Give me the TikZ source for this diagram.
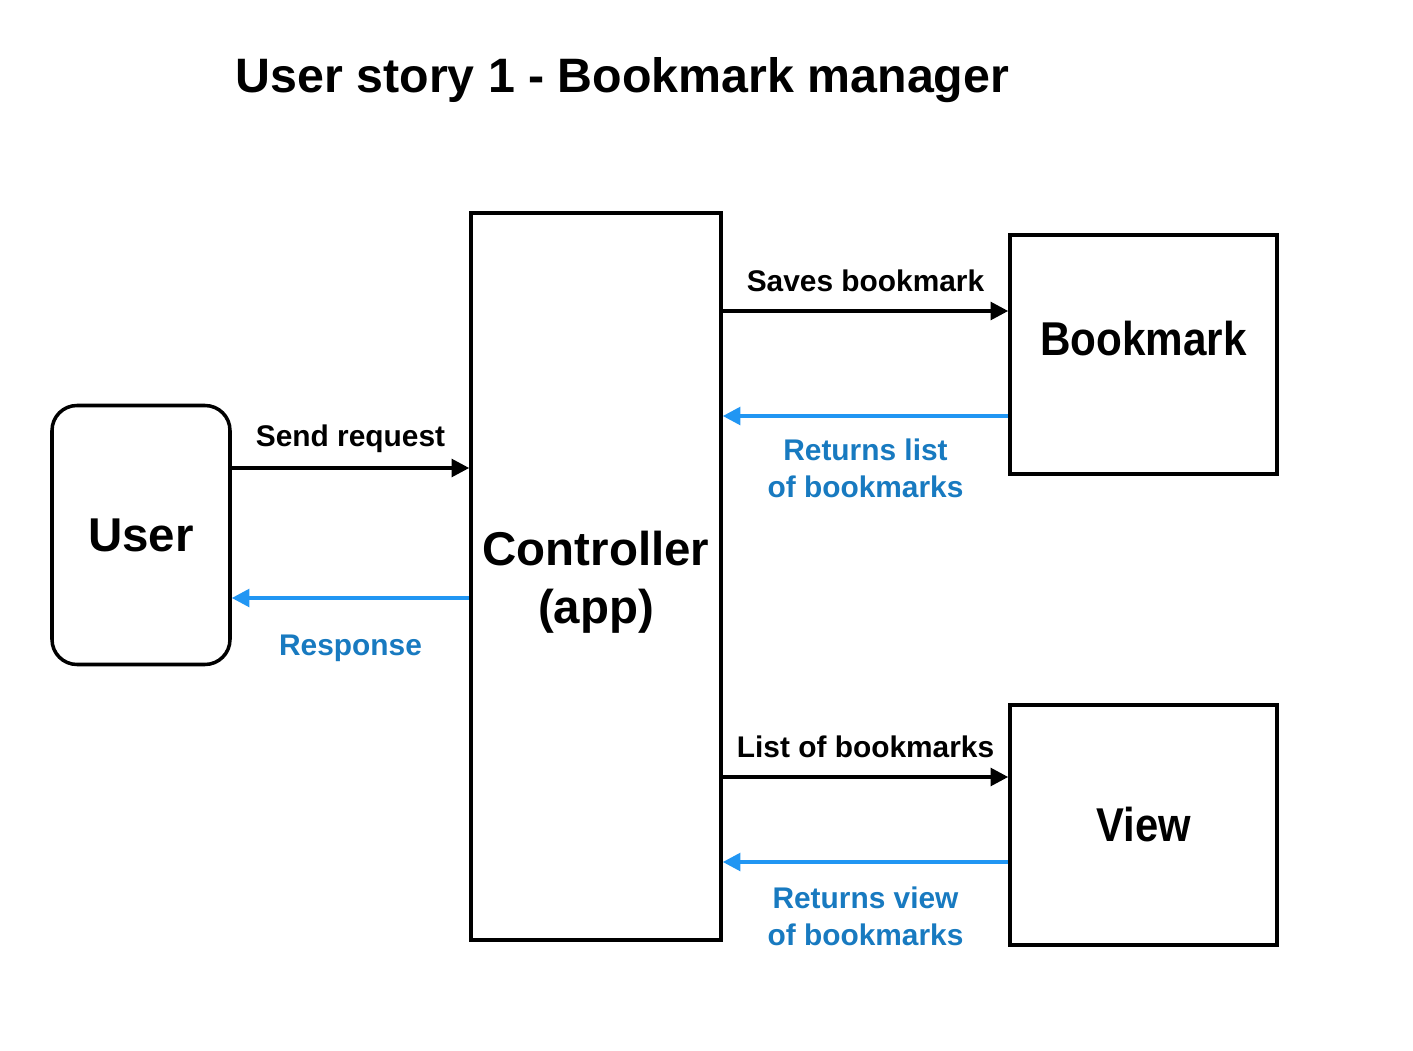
\documentclass[tikz,border=0pt]{standalone}
\usepackage{fontspec}
\usepackage{graphicx}
\setmainfont{Liberation Sans}
\usetikzlibrary{arrows.meta}
\definecolor{linkblue}{RGB}{33,150,243}
\definecolor{labelblue}{RGB}{24,122,192}

\begin{document}
\begin{tikzpicture}\tikzstyle{every node}=[font=\bfseries]
\tikzstyle{box}=[draw=black, line width=2pt]
\tikzstyle{boxtext}=[font=\fontsize{27}{33}\selectfont\bfseries, align=center]
\tikzstyle{msg}=[font=\fontsize{17}{20.5}\selectfont\bfseries, align=center]
\tikzstyle{go}=[line width=2.1pt, -{Triangle[length=10pt,width=10pt]}]
\tikzstyle{back}=[go, draw=linkblue]

   \useasboundingbox (0,0) rectangle (28.26,-21.02);

   % Title
    \node[font=\fontsize{27.5}{33}\selectfont\bfseries, anchor=base] (title) at (12.45,-1.86) {User story 1 - Bookmark manager};

   % Boxes
    \node[box, rounded corners=0.5cm, minimum width=3.56cm, minimum height=5.18cm, boxtext] (user) at (2.82,-10.7) {User};
    \node[box, minimum width=5cm, minimum height=14.54cm] (ctrl) at (11.92,-11.53) {};
    \node[boxtext] (ctrltext) at ([yshift=-0.12cm]ctrl.center) {Controller\\(app)};
    \node[box, minimum width=5.34cm, minimum height=4.78cm] (bmark) at (22.87,-7.09) {};
    \node[boxtext, anchor=base] (bmarktext) at ([yshift=-2.44cm]bmark.north) {\scalebox{0.89}[1]{Bookmark}};
    \node[box, minimum width=5.34cm, minimum height=4.8cm, boxtext] (view) at (22.87,-16.5) {\scalebox{0.88}[1]{View}};

   % Arrow levels
    \coordinate (sendy) at (0,-9.36);
    \coordinate (respy) at (0,-11.96);
    \coordinate (savey) at (0,-6.22);
    \coordinate (listy) at (0,-8.32);
    \coordinate (showy) at (0,-15.54);
    \coordinate (viewy) at (0,-17.24);

   % Requests
    \draw[go] (user.east |- sendy) -- node[msg, anchor=base, yshift=0.44cm]{Send request} (ctrl.west |- sendy);
    \draw[go] (ctrl.east |- savey) -- node[msg, anchor=base, yshift=0.38cm]{Saves bookmark} (bmark.west |- savey);
    \draw[go] (ctrl.east |- showy) -- node[msg, anchor=base, yshift=0.4cm]{List of bookmarks} (view.west |- showy);

   % Answers (base = last line)
    \draw[back] (ctrl.west |- respy) -- node[msg, labelblue, anchor=base, yshift=-1.14cm]{Response} (user.east |- respy);
    \draw[back] (bmark.west |- listy) -- node[msg, labelblue, anchor=base, yshift=-1.62cm]{Returns list\\of bookmarks} (ctrl.east |- listy);
    \draw[back] (view.west |- viewy) -- node[msg, labelblue, anchor=base, yshift=-1.66cm]{Returns view\\of bookmarks} (ctrl.east |- viewy);

\end{tikzpicture}
\end{document}
